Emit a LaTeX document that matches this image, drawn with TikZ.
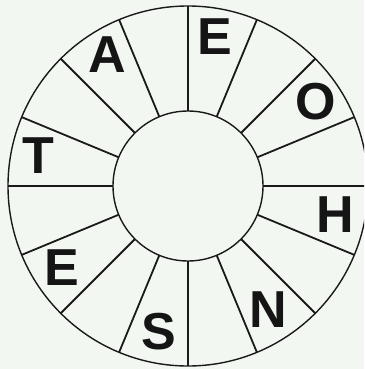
\documentclass[tikz,border=0pt]{standalone}
\usepackage{fontspec}
\setmainfont{Liberation Sans}
\definecolor{bgc}{HTML}{F3F7F1}
\definecolor{ink}{HTML}{1A1A1A}
\begin{document}
\begin{tikzpicture}[x=1pt,y=-1pt,
  letter/.style={font=\fontsize{52}{52}\selectfont\bfseries, inner sep=0pt, text=ink!80!black},
  ring/.style={draw=ink, line width=1.4pt},
  spoke/.style={draw=ink, line width=1.8pt}]
\fill[bgc] (0,0) rectangle (364,369);
\useasboundingbox (0,0) rectangle (364,369);
\begin{scope}
\clip (0,0) rectangle (364,369);
\coordinate (c) at (188,186);
\draw[ring] (c) circle[radius=180pt];
\draw[ring] (c) circle[radius=75pt];
\foreach \a in {0,22.5,...,337.5}
  \draw[spoke] ([shift={(\a:75pt)}]c) -- ([shift={(\a:180pt)}]c);
\end{scope}
\node[letter] (e1) at (214.7,36.7) {E};
\node[letter] (o) at (315.5,101.7) {O};
\node[letter] (h) at (335,215) {H};
\node[letter] (n) at (268.3,309.5) {N};
\node[letter] (s) at (158.7,332) {S};
\node[letter] (e2) at (62,268) {E};
\node[letter] (t) at (38,156) {T};
\node[letter] (a) at (107.5,55) {A};
\end{tikzpicture}
\end{document}
